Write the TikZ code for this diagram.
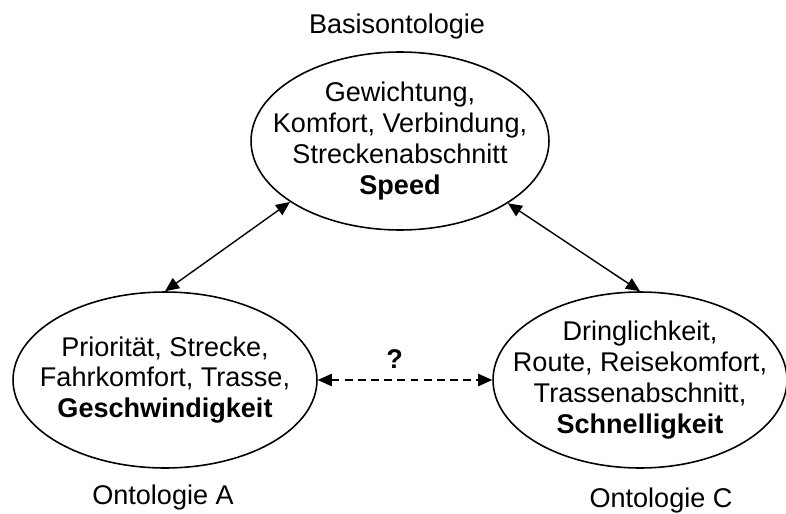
\documentclass[tikz,border=0pt]{standalone}
\usepackage{fontspec}
\setmainfont{Liberation Sans}
\usetikzlibrary{arrows.meta, shapes.geometric, positioning}

\begin{document}
\begin{tikzpicture}[
    x=0.02cm, y=-0.02cm,
    onto/.style={ellipse, draw, line width=0.9pt, inner sep=-25pt,
      align=center, font=\fontsize{15.4pt}{17.6pt}\selectfont},
    title/.style={font=\fontsize{15.4pt}{17.6pt}\selectfont},
    link/.style={line width=0.8pt, {Triangle[length=8pt,width=7pt]}-{Triangle[length=8pt,width=7pt]}},
  ]
    \useasboundingbox (0,0) rectangle (786,513);

    % the three ontologies
    \node[onto, minimum width=5.96cm, minimum height=3.56cm] (basis) at (400,141)
      {Gewichtung,\\Komfort, Verbindung,\\Streckenabschnitt\\\textbf{Speed}};
    \node[onto, minimum width=6.08cm, minimum height=3.52cm] (ontoA) at (165,380)
      {Priorität, Strecke,\\Fahrkomfort, Trasse,\\\textbf{Geschwindigkeit}};
    \node[onto, minimum width=5.88cm, minimum height=3.52cm] (ontoC) at (640,380)
      {Dringlichkeit,\\Route, Reisekomfort,\\Trassenabschnitt,\\\textbf{Schnelligkeit}};

    % captions
    \node[title] (tBasis) at (397,27) {Basisontologie};
    \node[title] (tA) at (163,497) {Ontologie A};
    \node[title] (tC) at (661,500) {Ontologie C};

    % mappings
    \draw[link] (ontoA.north) -- (basis.209);
    \draw[link] (basis.330) -- (ontoC.north);
    \draw[link, dash pattern=on 4.5pt off 3pt] (ontoA.east) -- (ontoC.west)
      node[pos=0.44, above=3pt, font=\fontsize{15.4pt}{17.6pt}\bfseries] (q) {?};
  \end{tikzpicture}
\end{document}
